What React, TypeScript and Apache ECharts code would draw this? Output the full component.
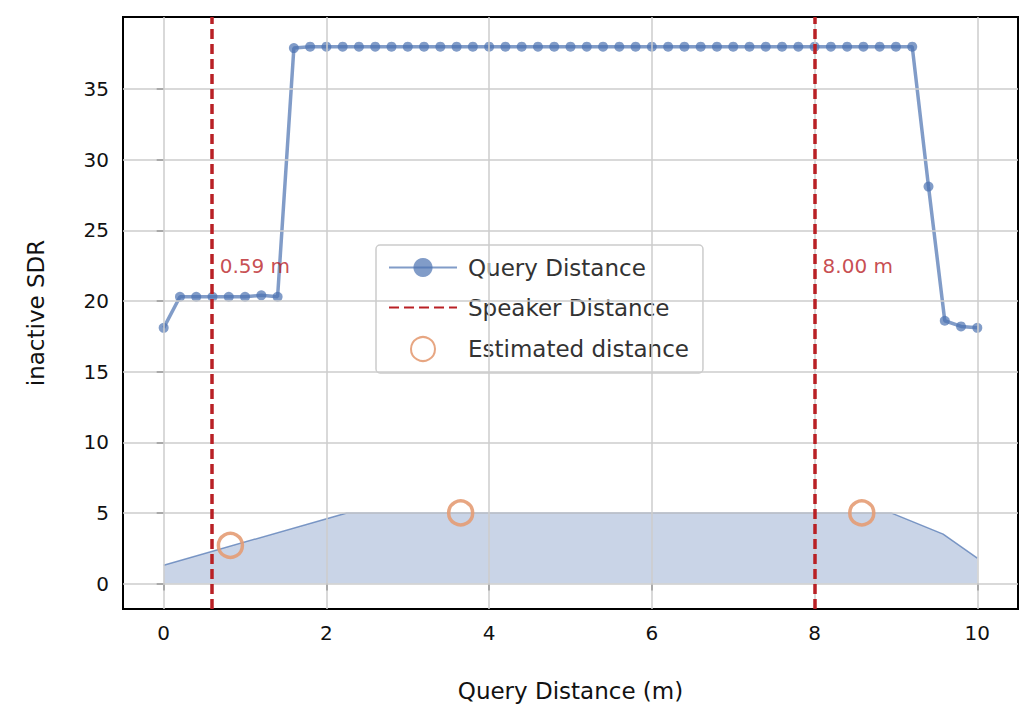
import { useEffect, useRef } from "react";
import * as echarts from "echarts";

const queryX = [0, 0.2, 0.4, 0.6, 0.8, 1.0, 1.2, 1.4, 1.6, 1.8, 2.0, 2.2, 2.4, 2.6, 2.8, 3.0, 3.2, 3.4, 3.6, 3.8, 4.0, 4.2, 4.4, 4.6, 4.8, 5.0, 5.2, 5.4, 5.6, 5.8, 6.0, 6.2, 6.4, 6.6, 6.8, 7.0, 7.2, 7.4, 7.6, 7.8, 8.0, 8.2, 8.4, 8.6, 8.8, 9.0, 9.2, 9.4, 9.6, 9.8, 10.0];
const querySdr = [18.1, 20.3, 20.3, 20.3, 20.3, 20.3, 20.4, 20.3, 37.9, 38, 38, 38, 38, 38, 38, 38, 38, 38, 38, 38, 38, 38, 38, 38, 38, 38, 38, 38, 38, 38, 38, 38, 38, 38, 38, 38, 38, 38, 38, 38, 38, 38, 38, 38, 38, 38, 38, 28.1, 18.6, 18.2, 18.1];
const areaX = [0, 2.25, 8.94, 9.58, 10];
const areaY = [1.3, 5.0, 5.0, 3.5, 1.8];
const estimated = [[0.82, 2.7], [3.65, 5.0], [8.58, 5.0]];
const speakers = [0.59, 8.0];
const speakerLabels = ["0.59 m", "8.00 m"];
const xTicks = [0, 2, 4, 6, 8, 10];
const yTicks = [0, 5, 10, 15, 20, 25, 30, 35];

const BLUE = "#4c72b0";
const RED = "#b92025";
const ORANGE = "#e49c74";
const FONT = "DejaVu Sans";
const INK = "#111";

export default function App() {
  const ref = useRef<HTMLDivElement>(null);
  useEffect(() => {
    document.body.style.margin = "0";
    if (!ref.current) return;
    const chart = echarts.init(ref.current, undefined, { renderer: "svg" });
    const gridStyle = { color: "#cccccc", width: 1.5, type: "solid" as const };
    chart.setOption({
      animation: false,
      textStyle: { fontFamily: FONT },
      grid: { left: 123, top: 17, width: 895, height: 592, show: true, borderColor: "#000", borderWidth: 2, backgroundColor: "transparent" },
      xAxis: {
        type: "value", min: -0.5, max: 10.5, name: "Query Distance (m)", nameLocation: "middle", nameGap: 70,
        nameTextStyle: { fontSize: 23, color: INK, fontFamily: FONT },
        axisLine: { show: false }, splitLine: { show: false },
        axisTick: { show: true, length: 7, lineStyle: { color: "#000", width: 1.5 }, customValues: xTicks },
        axisLabel: { fontSize: 20, color: INK, margin: 14, customValues: xTicks },
      },
      yAxis: {
        type: "value", min: -1.8, max: 40.1, name: "inactive SDR", nameLocation: "middle", nameGap: 76,
        nameTextStyle: { fontSize: 23, color: INK, fontFamily: FONT },
        axisLine: { show: false }, splitLine: { show: false },
        axisTick: { show: true, length: 7, lineStyle: { color: "#000", width: 1.5 }, customValues: yTicks },
        axisLabel: { fontSize: 20, color: INK, margin: 14, customValues: yTicks },
      },
      legend: {
        left: 376, top: 245, orient: "vertical", itemGap: 17, itemWidth: 68, itemHeight: 24,
        padding: [11, 14, 11, 12], backgroundColor: "rgba(255,255,255,0.85)", borderColor: "#ccc", borderWidth: 1.5, borderRadius: 4,
        textStyle: { fontSize: 23, color: "#333", fontFamily: FONT, padding: [0, 0, 0, 6] },
        data: [
          { name: "Query Distance" },
          { name: "Speaker Distance", itemStyle: { opacity: 0 } },
          { name: "Estimated distance" },
        ],
      },
      series: [
        {
          type: "line", name: "grid", silent: true, data: [], z: 0,
          markLine: {
            symbol: "none", silent: true, label: { show: false }, lineStyle: gridStyle,
            data: [...xTicks.map((v) => ({ xAxis: v })), ...yTicks.map((v) => ({ yAxis: v }))],
          },
        },
        {
          type: "line", name: "area", data: areaX.map((x, i) => [x, areaY[i]]), showSymbol: false,
          lineStyle: { color: BLUE, width: 1.5, opacity: 0.7 }, areaStyle: { color: BLUE, opacity: 0.3 }, z: 1,
        },
        {
          type: "line", name: "Query Distance", data: queryX.map((x, i) => [x, querySdr[i]]),
          symbol: "circle", symbolSize: 10, itemStyle: { color: BLUE, opacity: 0.7 },
          lineStyle: { color: BLUE, width: 3.5, opacity: 0.7 }, z: 3,
        },
        {
          type: "line", name: "Speaker Distance", data: [], itemStyle: { color: RED }, symbol: "none",
          lineStyle: { color: RED, width: 3.5, type: [10, 5] }, z: 4,
          markLine: {
            symbol: "none", silent: true, lineStyle: { color: RED, width: 3.5, type: [10, 5] },
            label: { show: false },
            data: speakers.map((v) => ({ xAxis: v })),
          },
        },
        {
          type: "scatter", name: "Estimated distance", data: estimated, symbol: "circle", symbolSize: 24,
          itemStyle: { color: "transparent", borderColor: ORANGE, borderWidth: 3.5, opacity: 0.9 }, z: 5,
        },
        {
          type: "scatter", name: "labels", silent: true, symbolSize: 0,
          data: speakers.map((v, i) => ({ value: [v, 22.5], name: speakerLabels[i] })),
          label: { show: true, position: "right", distance: 8, formatter: "{b}", fontSize: 20, color: RED, fontFamily: FONT },
          z: 6,
        },
      ],
    });
    return () => chart.dispose();
  }, []);
  return <div ref={ref} style={{ width: 1036, height: 725 }} />;
}
